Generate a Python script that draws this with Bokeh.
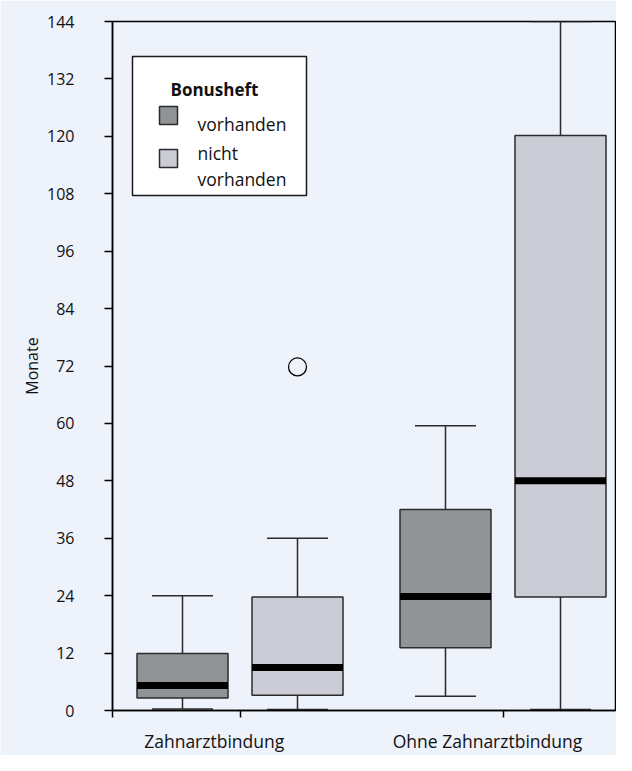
from bokeh.plotting import figure
from bokeh.models import ColumnDataSource, Range1d, FixedTicker, BoxAnnotation, Label
from bokeh.embed import file_html
from bokeh.resources import INLINE

# ---------------- data ----------------
categories = ["Zahnarztbindung", "Ohne Zahnarztbindung"]
groups = ["vorhanden", "nicht vorhanden"]
legend_title = "Bonusheft"
y_ticks = [0, 12, 24, 36, 48, 60, 72, 84, 96, 108, 120, 132, 144]
y_label = "Monate"

# one entry per box: (category index, group index)
box_category = [0, 0, 1, 1]
box_group = [0, 1, 0, 1]
whisker_low = [0.3, 0.2, 3.0, 0.2]
q1 = [2.6, 3.2, 13.1, 23.7]
median = [5.2, 9.0, 23.8, 48.0]
q3 = [11.9, 23.7, 42.0, 120.2]
whisker_high = [24.0, 36.0, 59.5, 144.0]

outlier_category = [0]
outlier_group = [1]
outlier_value = [71.8]

# ---------------- styles / layout ----------------
BG = "#EEF2FB"
FILLS = ["#909497", "#CBCCD6"]
EDGE = "#2b2b2b"
TXT = "#111111"
FONT = "Open Sans"

FIG_W, FIG_H = 616, 755
PAGE_X0 = 239.5   # px of category 1 centre
SPX = 263.0       # px per category unit
FRAME_L, FRAME_R = 112, 615
FRAME_T, FRAME_B = 21, 710

def px2x(px):
    return 1 + (px - PAGE_X0) / SPX

def py2y(py):
    return (FRAME_B - py) * 144.0 / (FRAME_B - FRAME_T)

x_start, x_end = px2x(FRAME_L), px2x(FRAME_R)
OFFSET = 57.5 / SPX
BOX_W = 91 / SPX
CAP_W = 61 / SPX

p = figure(width=FIG_W, height=FIG_H, output_backend="svg", toolbar_location=None,
           x_range=Range1d(x_start, x_end), y_range=Range1d(0, 144),
           min_border_left=FRAME_L, min_border_right=FIG_W - FRAME_R,
           min_border_top=FRAME_T, min_border_bottom=FIG_H - FRAME_B,
           background_fill_color=BG, border_fill_color=BG)
p.grid.visible = False
p.outline_line_color = "black"
p.outline_line_width = 1.5

# box data
xc = [c + 1 + (OFFSET if g == 1 else -OFFSET) for c, g in zip(box_category, box_group)]
src = ColumnDataSource(dict(
    x=xc, lo=whisker_low, q1=q1, med=median, q3=q3, hi=whisker_high,
    fill=[FILLS[g] for g in box_group],
    x0=[x - BOX_W / 2 for x in xc], x1=[x + BOX_W / 2 for x in xc],
    c0=[x - CAP_W / 2 for x in xc], c1=[x + CAP_W / 2 for x in xc],
))

# whiskers
p.segment(x0="x", y0="q3", x1="x", y1="hi", source=src, line_color=EDGE, line_width=1.5)
p.segment(x0="x", y0="lo", x1="x", y1="q1", source=src, line_color=EDGE, line_width=1.5)
p.segment(x0="c0", y0="hi", x1="c1", y1="hi", source=src, line_color=EDGE, line_width=1.5)
p.segment(x0="c0", y0="lo", x1="c1", y1="lo", source=src, line_color=EDGE, line_width=1.5)
# boxes
p.vbar(x="x", width=BOX_W, bottom="q1", top="q3", source=src,
       fill_color="fill", line_color=EDGE, line_width=1.5)
# medians
p.segment(x0="x0", y0="med", x1="x1", y1="med", source=src, line_color="black",
          line_width=7, line_cap="butt")

# outliers
ox = [c + 1 + (OFFSET if g == 1 else -OFFSET) for c, g in zip(outlier_category, outlier_group)]
p.scatter(x=ox, y=outlier_value, marker="circle", size=18, fill_color=BG,
          line_color="black", line_width=1.3)

# y axis
ya = p.yaxis[0]
ya.ticker = FixedTicker(ticks=y_ticks)
ya.major_tick_out = 8
ya.major_tick_in = 0
ya.minor_tick_out = 0
ya.minor_tick_in = 0
ya.axis_line_width = 1.5
ya.major_tick_line_width = 1.5
ya.major_label_standoff = 30
ya.major_label_text_font = FONT
ya.major_label_text_font_size = "16px"
ya.major_label_text_color = TXT
ya.axis_label = y_label
ya.axis_label_text_font = FONT
ya.axis_label_text_font_size = "16px"
ya.axis_label_text_font_style = "normal"
ya.axis_label_text_color = TXT
ya.axis_label_standoff = 1

# x axis: category labels as major ticks (no tick mark), visible tick marks
# at the group centres and the axis start as minor ticks
lab_px = [213.7, 487.0]
lab_pos = [px2x(v) for v in lab_px]
xa = p.xaxis[0]
xa.ticker = FixedTicker(ticks=lab_pos, minor_ticks=[x_start, 1, 2])
xa.major_label_overrides = {lab_pos[i]: categories[i] for i in range(len(categories))}
xa.major_label_text_font = FONT
xa.major_label_text_font_size = "17.5px"
xa.major_label_text_color = TXT
xa.major_label_standoff = 11
xa.major_tick_out = 0
xa.major_tick_in = 0
xa.minor_tick_out = 7
xa.minor_tick_in = 0
xa.minor_tick_line_width = 1.5
xa.minor_tick_line_color = "black"
xa.axis_line_width = 1.5

# legend (manual)
p.add_layout(BoxAnnotation(left=px2x(132), right=px2x(306), top=py2y(56), bottom=py2y(195),
                           fill_color="white", fill_alpha=1, line_color="#1a1a1a",
                           line_alpha=1, line_width=1.5, level="overlay"))
for i, (top, bot) in enumerate([(106, 124), (149, 167)]):
    p.add_layout(BoxAnnotation(left=px2x(159), right=px2x(177), top=py2y(top), bottom=py2y(bot),
                               fill_color=FILLS[i], fill_alpha=1, line_color=EDGE,
                               line_alpha=1, line_width=1.5, level="overlay"))
p.add_layout(Label(x=px2x(170), y=py2y(89), text=legend_title, text_font=FONT,
                   text_font_size="17px", text_font_style="bold", text_color=TXT,
                   text_baseline="alphabetic", level="overlay"))
p.add_layout(Label(x=px2x(197), y=py2y(123), text=groups[0], text_font=FONT,
                   text_font_size="17.5px", text_color=TXT, text_baseline="alphabetic",
                   level="overlay"))
words = groups[1].split(" ")
for w, base in zip(words, [152, 178]):
    p.add_layout(Label(x=px2x(197), y=py2y(base), text=w, text_font=FONT,
                       text_font_size="17.5px", text_color=TXT, text_baseline="alphabetic",
                       level="overlay"))

open("out.html", "w").write(file_html(p, INLINE))
